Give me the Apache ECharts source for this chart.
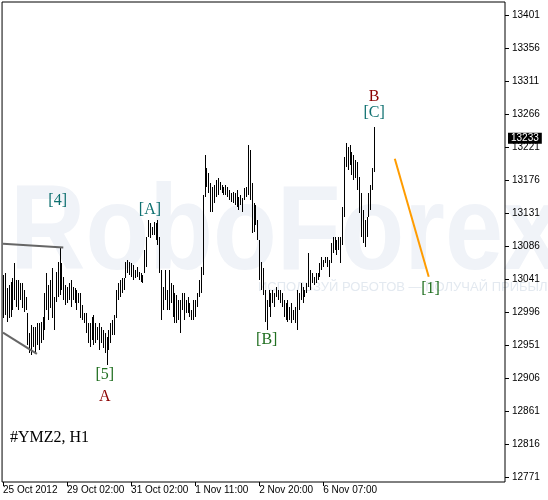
<!DOCTYPE html>
<html><head><meta charset="utf-8">
<script src="https://cdn.jsdelivr.net/npm/echarts@6/dist/echarts.min.js"></script>
<style>html,body{margin:0;padding:0;background:#fff}#c{width:548px;height:500px}</style>
</head><body><div id="c"></div>
<script>
const highs = [13046,13049,13029,13033,13037,13042,13063,13040,13040,13036,
13036,13026,13016,12995,12967,12978,12975,12975,12981,12981,
12982,12989,13022,13049,13033,13040,13056,13016,13051,13064,
13085,13063,13044,13033,13030,13036,13040,13030,13029,13026,
13022,13022,13006,12995,12995,12981,12981,12989,12992,12981,
12975,12981,12975,12971,12967,12962,12971,12981,12985,12992,
13026,13036,13040,13042,13042,13064,13067,13064,13063,13060,
13053,13057,13051,13049,13046,13081,13098,13121,13117,13112,
13119,13117,13121,13098,13053,13030,13053,13026,13053,13036,
13033,13022,13019,13012,13012,13022,13022,13012,13016,13008,
12999,13012,13012,13022,13040,13057,13156,13210,13192,13186,
13172,13166,13169,13176,13179,13173,13169,13166,13169,13166,
13162,13158,13160,13158,13162,13153,13156,13151,13165,13166,
13224,13217,13172,13145,13142,13121,13094,13064,13056,13026,
13012,13026,13022,13026,13022,13030,13026,13026,13022,13012,
13008,13012,13003,13008,12999,13003,13026,13022,13036,13030,
13026,13036,13076,13053,13049,13044,13049,13049,13063,13071,
13067,13071,13071,13067,13090,13098,13098,13094,13098,13098,
13139,13207,13226,13221,13224,13214,13210,13203,13201,13180,
13158,13135,13121,13126,13158,13169,13192,13248];
const lows = [12988,12992,12982,12988,12989,12999,13012,13003,12999,13012,
13001,12996,12999,12951,12940,12937,12948,12940,12951,12944,
12954,12958,12971,12999,12985,13001,12988,12971,13010,13016,
13019,13026,13012,13006,13008,13012,13003,13012,13008,12999,
13008,12988,12985,12981,12967,12954,12948,12958,12951,12954,
12958,12944,12954,12947,12940,12924,12944,12954,12965,12965,
12988,13012,13016,13022,13026,13042,13049,13046,13044,13040,
13042,13044,13040,13037,13036,13049,13057,13098,13097,13101,
13101,13094,13087,13049,12985,12999,13012,12999,12999,13008,
12989,12981,12981,12985,12967,12999,12985,12995,12995,12989,
12985,12985,12989,13003,13016,13022,13046,13153,13166,13158,
13132,13132,13145,13153,13156,13162,13158,13156,13156,13153,
13149,13146,13145,13142,13139,13135,13142,13132,13149,13153,
13156,13149,13104,13105,13115,13094,13040,13026,13019,12982,
12971,13003,12989,13008,13003,13016,13012,13008,13003,12989,
12985,12982,12985,12981,12985,12981,12971,12999,13012,13008,
13016,13022,13030,13026,13036,13033,13036,13040,13044,13053,
13057,13063,13057,13044,13063,13076,13081,13074,13081,13063,
13087,13126,13194,13190,13196,13183,13176,13179,13162,13131,
13098,13090,13085,13098,13126,13135,13162,13187];

const slotCount = 267;
const xTickIndex = [0, 34, 68, 102, 136, 170];
const xTickLabels = ['25 Oct 2012', '29 Oct 02:00', '31 Oct 02:00', '1 Nov 11:00', '2 Nov 20:00', '6 Nov 07:00'];
const yTicks = [12771,12816,12861,12906,12951,12996,13041,13086,13131,13176,13221,13266,13311,13356,13401];
const lastPrice = 13233;
const symbolName = '#YMZ2, H1';

const waveText = ['[4]', '[A]', '[5]', 'A', '[B]', 'B', '[C]', '[1]'];
const waveIdx = [29, 78, 54, 54, 140, 197, 197, 227];
const waveVal = [13147, 13135, 12910, 12881, 12958, 13289, 13267, 13027];
const waveColor = ['#0e7070', '#0e7070', '#1f6e1f', '#8b0000', '#1f6e1f', '#8b0000', '#0e7070', '#1f6e1f'];

const orangeLine = [[208, 13205], [226, 13044]];
const triTop = [[0, 13089], [32, 13084]];
const triBottom = [[0, 12968], [18, 12939]];

const categories = [];
for (let i = 0; i < slotCount; i++) categories.push(String(i));
const barData = highs.map((h, i) => [i, lows[i], h]);
const tickSet = {};
xTickIndex.forEach((v, k) => tickSet[v] = xTickLabels[k]);

const chart = echarts.init(document.getElementById('c'), null, {renderer: 'canvas'});
chart.setOption({
  animation: false,
  backgroundColor: '#fff',
  graphic: [
    {type: 'text', x: 10, y: 236, scaleX: 0.87, z: -10, silent: true,
      style: {text: 'RoboForex', font: 'bold 120px "Liberation Sans"', fill: '#f0f3f8', textVerticalAlign: 'middle'}},
    {type: 'text', x: 258, y: 287, z: -10, silent: true,
      style: {text: 'ИСПОЛЬЗУЙ РОБОТОВ — ПОЛУЧАЙ ПРИБЫЛЬ', font: '13px "Liberation Sans"', fill: '#e3e9f0', textVerticalAlign: 'middle'}},
    {type: 'text', x: 10, y: 438, z: 10, silent: true,
      style: {text: symbolName, font: '16px "Liberation Serif"', fill: '#000', textVerticalAlign: 'middle'}}
  ],
  grid: {left: 2, right: 43, top: 2, bottom: 18, show: true, borderColor: '#000', borderWidth: 1, backgroundColor: 'transparent'},
  xAxis: {
    type: 'category', data: categories, boundaryGap: true,
    axisLine: {show: false},
    axisTick: {show: true, alignWithLabel: true, length: 4, interval: (i) => tickSet[i] !== undefined, lineStyle: {color: '#000'}},
    axisLabel: {interval: (i) => tickSet[i] !== undefined, formatter: (v, i) => tickSet[i] || '', align: 'left',
      margin: 3, color: '#000', fontSize: 10, fontFamily: 'Liberation Sans'},
    splitLine: {show: false}
  },
  yAxis: {
    type: 'value', position: 'right', min: 12764.2, max: 13418.7, scale: true,
    axisLine: {show: false},
    axisTick: {show: true, length: 4, customValues: yTicks, lineStyle: {color: '#000'}},
    axisLabel: {customValues: yTicks, formatter: (v) => String(Math.round(v)), margin: 7, color: '#000', fontSize: 10, fontFamily: 'Liberation Sans'},
    splitLine: {show: false}
  },
  series: [
    {
      type: 'custom', data: barData, encode: {x: 0, y: [1, 2]}, silent: true, z: 3,
      renderItem: (params, api) => {
        const lo = api.coord([api.value(0), api.value(1)]);
        const hi = api.coord([api.value(0), api.value(2)]);
        const px = Math.round(lo[0]) + 0.5;
        return {type: 'line', shape: {x1: px, y1: Math.round(lo[1]), x2: px, y2: Math.round(hi[1])},
          style: {stroke: '#000', lineWidth: 1}};
      }
    },
    {type: 'line', data: triTop, symbol: 'none', silent: true, z: 4, lineStyle: {color: '#666', width: 2}},
    {type: 'line', data: triBottom, symbol: 'none', silent: true, z: 4, lineStyle: {color: '#666', width: 2}},
    {type: 'line', data: orangeLine, symbol: 'none', silent: true, z: 4, lineStyle: {color: '#ff9c00', width: 2},
      markLine: {silent: true, symbol: 'none', animation: false, data: [{yAxis: lastPrice}],
        lineStyle: {color: 'rgba(0,0,0,0)', width: 1, type: 'solid'},
        label: {show: true, position: 'end', formatter: String(lastPrice), backgroundColor: '#000', color: '#fff',
          padding: [1, 3, 0, 3], fontSize: 10, fontFamily: 'Liberation Sans', distance: 3}}},
    {type: 'scatter', symbolSize: 1, itemStyle: {color: 'rgba(0,0,0,0)', opacity: 1}, silent: true, z: 5,
      data: waveText.map((t, k) => ({value: [waveIdx[k], waveVal[k]],
        label: {show: true, position: 'inside', formatter: t, color: waveColor[k], opacity: 1, fontSize: 16, fontFamily: 'Liberation Serif'}}))}
  ]
});
</script></body></html>
